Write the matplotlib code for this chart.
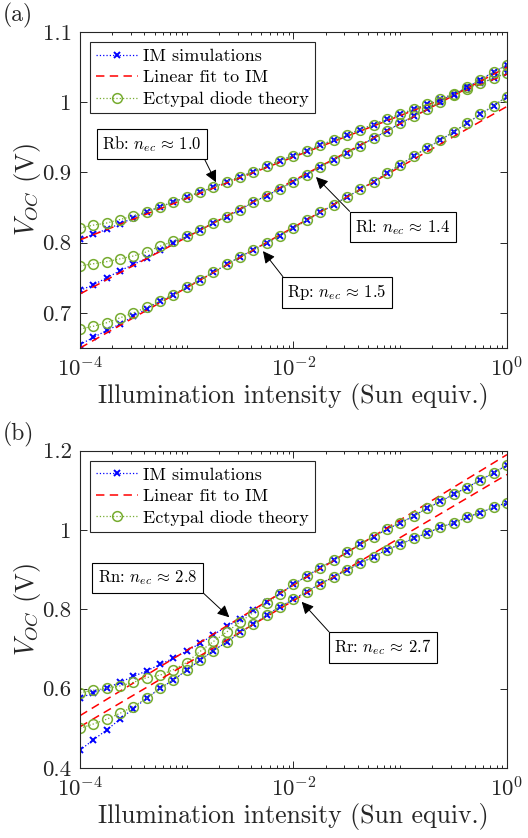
import matplotlib
matplotlib.use("Agg")
import matplotlib.pyplot as plt
import numpy as np
from matplotlib.ticker import LogLocator, NullFormatter

plt.rcParams["font.family"] = "serif"
plt.rcParams["font.serif"] = ["cmr10"]
plt.rcParams["mathtext.fontset"] = "cm"
plt.rcParams["axes.unicode_minus"] = False

# intensity grid: 8 points per decade, 1e-4 .. 1
log_intensity = np.linspace(-4, 0, 33)
intensity = 10.0 ** log_intensity
fit_x = np.array([1e-4, 1.0])

# ---- panel (a) ----
rb_im = [0.805, 0.812, 0.819, 0.827, 0.835, 0.844, 0.851, 0.858, 0.865, 0.872, 0.879,
         0.887, 0.894, 0.901, 0.909, 0.917, 0.924, 0.931, 0.939, 0.946, 0.954, 0.961,
         0.968, 0.976, 0.983, 0.990, 0.997, 1.004, 1.012, 1.019, 1.027, 1.034, 1.042]
rb_ect = [0.821, 0.825, 0.828, 0.833, 0.838, 0.844, 0.851, 0.858, 0.865, 0.872, 0.879,
          0.887, 0.894, 0.901, 0.909, 0.917, 0.924, 0.931, 0.939, 0.946, 0.954, 0.961,
          0.968, 0.976, 0.983, 0.990, 0.997, 1.004, 1.012, 1.019, 1.027, 1.034, 1.042]
rb_fit = [0.804, 1.040]

rl_im = [0.732, 0.740, 0.750, 0.760, 0.769, 0.778, 0.789, 0.800, 0.809, 0.818, 0.828,
         0.837, 0.847, 0.858, 0.867, 0.877, 0.887, 0.897, 0.908, 0.918, 0.927, 0.938,
         0.949, 0.959, 0.970, 0.980, 0.990, 1.001, 1.011, 1.021, 1.032, 1.043, 1.053]
rl_ect = [0.767, 0.770, 0.773, 0.777, 0.781, 0.787, 0.795, 0.802, 0.809, 0.818, 0.828,
          0.837, 0.847, 0.858, 0.867, 0.877, 0.887, 0.897, 0.908, 0.918, 0.927, 0.938,
          0.949, 0.959, 0.970, 0.980, 0.990, 1.001, 1.011, 1.021, 1.032, 1.043, 1.053]
rl_fit = [0.727, 1.050]

rp_im = [0.655, 0.665, 0.675, 0.684, 0.695, 0.706, 0.717, 0.726, 0.737, 0.747, 0.758,
         0.769, 0.780, 0.790, 0.800, 0.810, 0.821, 0.832, 0.843, 0.854, 0.865, 0.876,
         0.887, 0.899, 0.911, 0.923, 0.935, 0.946, 0.958, 0.970, 0.983, 0.995, 1.008]
rp_ect = [0.677, 0.681, 0.686, 0.693, 0.700, 0.708, 0.717, 0.726, 0.737, 0.747, 0.758,
          0.769, 0.780, 0.790, 0.800, 0.810, 0.821, 0.832, 0.843, 0.854, 0.865, 0.876,
          0.887, 0.899, 0.911, 0.923, 0.935, 0.946, 0.958, 0.970, 0.983, 0.995, 1.008]
rp_fit = [0.650, 0.994]

# ---- panel (b) ----
rn_im = [0.576, 0.590, 0.601, 0.616, 0.631, 0.645, 0.661, 0.677, 0.695, 0.714, 0.736,
         0.757, 0.775, 0.798, 0.819, 0.840, 0.863, 0.884, 0.905, 0.924, 0.944, 0.964,
         0.983, 1.002, 1.018, 1.035, 1.055, 1.072, 1.090, 1.107, 1.126, 1.144, 1.164]
rn_ect = [0.590, 0.596, 0.601, 0.607, 0.616, 0.628, 0.634, 0.648, 0.666, 0.694, 0.719,
          0.743, 0.768, 0.792, 0.815, 0.839, 0.863, 0.884, 0.905, 0.924, 0.944, 0.964,
          0.983, 1.002, 1.018, 1.035, 1.055, 1.072, 1.090, 1.107, 1.126, 1.144, 1.164]
rn_fit = [0.532, 1.190]

rr_im = [0.445, 0.471, 0.496, 0.523, 0.550, 0.576, 0.601, 0.622, 0.647, 0.672, 0.696,
         0.718, 0.742, 0.762, 0.786, 0.807, 0.825, 0.845, 0.864, 0.882, 0.899, 0.916,
         0.933, 0.950, 0.964, 0.979, 0.992, 1.007, 1.018, 1.032, 1.044, 1.057, 1.069]
rr_ect = [0.500, 0.511, 0.523, 0.538, 0.555, 0.576, 0.601, 0.622, 0.647, 0.672, 0.696,
          0.718, 0.742, 0.762, 0.786, 0.807, 0.825, 0.845, 0.864, 0.882, 0.899, 0.916,
          0.933, 0.950, 0.964, 0.979, 0.992, 1.007, 1.018, 1.032, 1.044, 1.057, 1.069]
rr_fit = [0.504, 1.140]

IM_COLOR = "#0000ff"
FIT_COLOR = "#ff0000"
ECT_COLOR = "#77ac30"
AX_COLOR = "#262626"


def _draw_series(ax, im, fit, ect, label=True):
    ax.plot(intensity, im, ls=":", color=IM_COLOR, lw=0.9, marker="x", ms=5, mew=1.4,
            label="IM simulations" if label else None)
    ax.plot(fit_x, fit, ls=(0, (5.5, 3.5)), color=FIT_COLOR, lw=1.1,
            label="Linear fit to IM" if label else None)
    ax.plot(intensity, ect, ls=":", color=ECT_COLOR, lw=0.9, marker="o", ms=7, mfc="none",
            mew=1.1, label="Ectypal diode theory" if label else None)


def _style_axes(ax, yticks, ylabels, ylim):
    ax.set_xscale("log")
    ax.set_xlim(1e-4, 1)
    ax.set_ylim(*ylim)
    ax.set_xticks([1e-4, 1e-2, 1])
    ax.set_xticklabels([r"$10^{-4}$", r"$10^{-2}$", r"$10^{0}$"])
    ax.xaxis.set_minor_locator(LogLocator(base=10, subs=np.arange(1, 10), numticks=20))
    ax.xaxis.set_minor_formatter(NullFormatter())
    ax.set_yticks(yticks)
    ax.set_yticklabels(ylabels)
    ax.tick_params(which="both", direction="in", top=True, right=True, color=AX_COLOR,
                   labelsize=16.5, labelcolor=AX_COLOR, width=0.7)
    ax.tick_params(which="major", length=5, pad=6)
    ax.tick_params(which="minor", length=2.5)
    for sp in ax.spines.values():
        sp.set_color(AX_COLOR)
        sp.set_linewidth(0.8)
    ax.set_xlabel("Illumination intensity (Sun equiv.)", fontsize=18.5, color=AX_COLOR, labelpad=2)
    ax.set_ylabel(r"$V_{OC}$ (V)", fontsize=19, color=AX_COLOR, labelpad=0)
    leg = ax.legend(loc="upper left", fontsize=13, numpoints=1, handlelength=2.3,
                    handletextpad=0.3, borderpad=0.35, labelspacing=0.32,
                    borderaxespad=0.55, fancybox=False, framealpha=1)
    leg.get_frame().set_edgecolor(AX_COLOR)
    leg.get_frame().set_linewidth(0.8)


def _note(ax, text, tip, text_pos, relpos):
    ax.annotate(text, xy=tip, xycoords="data", xytext=text_pos, textcoords="axes fraction",
                ha="center", va="center", fontsize=12,
                bbox=dict(boxstyle="square,pad=0.32", fc="white", ec="black", lw=0.8),
                arrowprops=dict(arrowstyle="-|>", color="black", lw=0.7, mutation_scale=18,
                                relpos=relpos, shrinkA=0, shrinkB=0))


fig = plt.figure(figsize=(5.28, 8.38), dpi=100)
ax_a = fig.add_axes([0.1515, 0.5847, 0.8087, 0.3771])
ax_b = fig.add_axes([0.1515, 0.0835, 0.8087, 0.3787])

_draw_series(ax_a, rb_im, rb_fit, rb_ect)
_draw_series(ax_a, rl_im, rl_fit, rl_ect, label=False)
_draw_series(ax_a, rp_im, rp_fit, rp_ect, label=False)
_style_axes(ax_a, [0.7, 0.8, 0.9, 1.0, 1.1], ["0.7", "0.8", "0.9", "1", "1.1"], (0.65, 1.1))
_note(ax_a, r"Rb: $n_{ec}\,\approx\,1.0$", (10 ** -2.726, 0.886), (0.169, 0.646), (1, 0))
_note(ax_a, r"Rl: $n_{ec}\,\approx\,1.4$", (10 ** -1.789, 0.8935), (0.756, 0.383), (0, 1))
_note(ax_a, r"Rp: $n_{ec}\,\approx\,1.5$", (10 ** -2.286, 0.788), (0.602, 0.176), (0, 1))

_draw_series(ax_b, rn_im, rn_fit, rn_ect)
_draw_series(ax_b, rr_im, rr_fit, rr_ect, label=False)
_style_axes(ax_b, [0.4, 0.6, 0.8, 1.0, 1.2], ["0.4", "0.6", "0.8", "1", "1.2"], (0.4, 1.2))
_note(ax_b, r"Rn: $n_{ec}\,\approx\,2.8$", (10 ** -2.601, 0.780), (0.158, 0.599), (1, 0))
_note(ax_b, r"Rr: $n_{ec}\,\approx\,2.7$", (10 ** -1.923, 0.819), (0.709, 0.380), (0, 1))

fig.text(0.006, 0.997, "(a)", fontsize=17, va="top", ha="left", color=AX_COLOR)
fig.text(0.006, 0.496, "(b)", fontsize=17, va="top", ha="left", color=AX_COLOR)

fig.savefig("out.png", dpi=100)
plt.close(fig)
